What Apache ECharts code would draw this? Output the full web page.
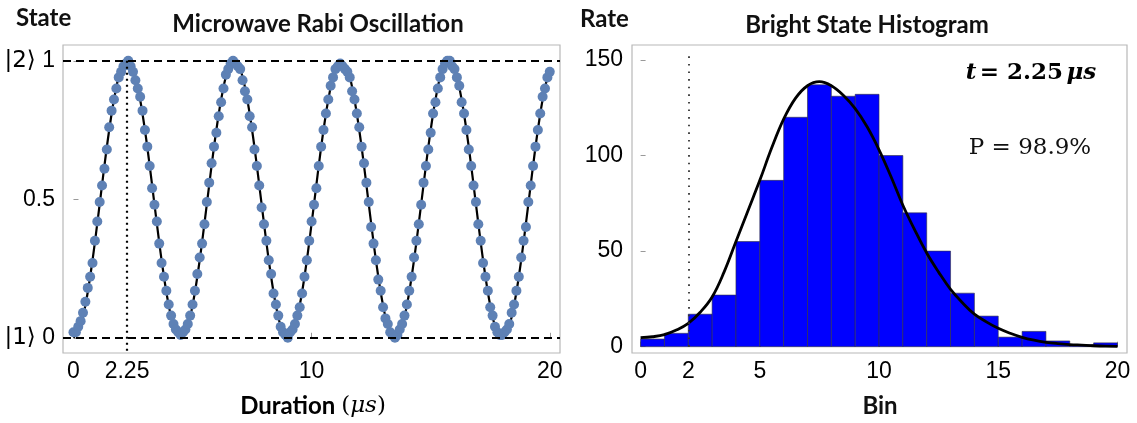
<!DOCTYPE html>
<html><head><meta charset="utf-8">
<script src="https://cdn.jsdelivr.net/npm/echarts@6/dist/echarts.min.js"></script>
<style>html,body{margin:0;padding:0;background:#fff}#c{width:1137px;height:423px}</style>
</head><body><div id="c"></div>
<script>
// ---- Left panel: Microwave Rabi oscillation ----
const rabiTimes = [
0,0.1,0.2,0.3,0.4,0.5,0.6,0.7,0.8,0.9,
1,1.1,1.2,1.3,1.4,1.5,1.6,1.7,1.8,1.9,
2,2.1,2.2,2.3,2.4,2.5,2.6,2.7,2.8,2.9,
3,3.1,3.2,3.3,3.4,3.5,3.6,3.7,3.8,3.9,
4,4.1,4.2,4.3,4.4,4.5,4.6,4.7,4.8,4.9,
5,5.1,5.2,5.3,5.4,5.5,5.6,5.7,5.8,5.9,
6,6.1,6.2,6.3,6.4,6.5,6.6,6.7,6.8,6.9,
7,7.1,7.2,7.3,7.4,7.5,7.6,7.7,7.8,7.9,
8,8.1,8.2,8.3,8.4,8.5,8.6,8.7,8.8,8.9,
9,9.1,9.2,9.3,9.4,9.5,9.6,9.7,9.8,9.9,
10,10.1,10.2,10.3,10.4,10.5,10.6,10.7,10.8,10.9,
11,11.1,11.2,11.3,11.4,11.5,11.6,11.7,11.8,11.9,
12,12.1,12.2,12.3,12.4,12.5,12.6,12.7,12.8,12.9,
13,13.1,13.2,13.3,13.4,13.5,13.6,13.7,13.8,13.9,
14,14.1,14.2,14.3,14.4,14.5,14.6,14.7,14.8,14.9,
15,15.1,15.2,15.3,15.4,15.5,15.6,15.7,15.8,15.9,
16,16.1,16.2,16.3,16.4,16.5,16.6,16.7,16.8,16.9,
17,17.1,17.2,17.3,17.4,17.5,17.6,17.7,17.8,17.9,
18,18.1,18.2,18.3,18.4,18.5,18.6,18.7,18.8,18.9,
19,19.1,19.2,19.3,19.4,19.5,19.6,19.7,19.8,19.9,
20];
const rabiState = [
0.02,0.02,0.04,0.06,0.09,0.13,0.18,0.22,0.27,0.35,0.42,0.49,0.55,0.61,0.68,0.76,0.82,0.86,0.90,0.94,0.96,0.98,0.99,1.00,0.98,0.96,0.93,0.90,0.87,0.82,0.75,0.69,0.62,0.54,0.48,0.42,0.34,0.27,0.22,0.17,0.12,0.08,0.05,0.03,0.02,
0.01,0.02,0.03,0.05,0.08,0.12,0.17,0.23,0.29,0.34,0.41,0.49,0.56,0.63,0.69,0.74,0.80,0.85,0.90,0.95,0.97,0.99,1.00,0.99,0.98,0.97,0.93,0.89,0.86,0.80,0.76,0.68,0.62,0.55,0.47,0.41,0.35,0.28,0.23,0.16,0.12,0.08,0.04,0.02,0.01,
0.00,0.02,0.03,0.05,0.08,0.11,0.16,0.22,0.28,0.35,0.42,0.48,0.54,0.62,0.69,0.75,0.81,0.86,0.91,0.94,0.97,0.98,0.99,0.98,0.97,0.96,0.94,0.89,0.86,0.81,0.76,0.69,0.63,0.56,0.49,0.40,0.34,0.28,0.21,0.17,0.11,0.07,0.05,0.02,0.01,
0.00,0.01,0.03,0.05,0.08,0.12,0.17,0.22,0.29,0.35,0.41,0.48,0.56,0.62,0.68,0.74,0.81,0.85,0.90,0.94,0.97,0.99,1.00,1.00,0.98,0.97,0.94,0.91,0.85,0.81,0.75,0.68,0.62,0.55,0.49,0.41,0.35,0.27,0.22,0.17,0.11,0.08,0.04,0.02,0.01,
0.01,0.02,0.03,0.05,0.09,0.12,0.17,0.22,0.29,0.35,0.40,0.49,0.55,0.62,0.69,0.75,0.81,0.87,0.90,0.94,0.96];
const fitTimes = [
0,0.25,0.5,0.75,1,1.25,1.5,1.75,2,2.25,2.5,2.75,3,3.25,3.5,3.75,4,4.25,4.5,4.75,
5,5.25,5.5,5.75,6,6.25,6.5,6.75,7,7.25,7.5,7.75,8,8.25,8.5,8.75,9,9.25,9.5,9.75,
10,10.25,10.5,10.75,11,11.25,11.5,11.75,12,12.25,12.5,12.75,13,13.25,13.5,13.75,14,14.25,14.5,14.75,
15,15.25,15.5,15.75,16,16.25,16.5,16.75,17,17.25,17.5,17.75,18,18.25,18.5,18.75,19,19.25,19.5,19.75,20];
const fitState = [
0,0.030,0.117,0.250,0.413,0.587,0.750,0.883,0.970,1.000,0.970,0.883,0.750,0.587,0.413,0.250,0.117,0.030,
0,0.030,0.117,0.250,0.413,0.587,0.750,0.883,0.970,1.000,0.970,0.883,0.750,0.587,0.413,0.250,0.117,0.030,
0,0.030,0.117,0.250,0.413,0.587,0.750,0.883,0.970,1.000,0.970,0.883,0.750,0.587,0.413,0.250,0.117,0.030,
0,0.030,0.117,0.250,0.413,0.587,0.750,0.883,0.970,1.000,0.970,0.883,0.750,0.587,0.413,0.250,0.117,0.030,
0,0.030,0.117,0.250,0.413,0.587,0.750,0.883,0.970];
const durationTicks = [0, 2.25, 10, 20];
const durationMinorTicks = [0, 10, 20];
const stateTicks = [0, 0.5, 1];
const piTime = 2.25;

// ---- Right panel: bright state histogram ----
const binStarts = [0,1,2,3,4,5,6,7,8,9,10,11,12,13,14,15,16,17,18,19];
const binCounts = [4,7,17,27,55,87,120,137,131,132,100,70,50,28,16,5,8,3,1,2];
const fitBins = [0,0.5,1,1.5,2,2.5,3,3.5,4,4.5,5,5.5,6,6.5,7,7.5,8,8.5,9,9.5,10,10.5,11,11.5,12,12.5,13,13.5,14,14.5,15,15.5,16,16.5,17,17.5,18,18.5,19,19.5,20];
const fitCounts = [4.7,5.2,6.3,8.7,12.2,18,26,39,55,71,87,104,119,130,136.5,138.6,136.5,131.5,124.5,115,103,89,74,61,49,39,30,23,17,13,9.6,7,4.9,3.4,2.3,1.6,1.1,0.8,0.5,0.3,0.2];
const binTicks = [0, 2, 5, 10, 15, 20];
const rateTicks = [0, 50, 100, 150];
const thresholdBin = 2;
const thresholdTop = 155;

const chart = echarts.init(document.getElementById('c'), null, {renderer: 'canvas'});
const TICKFONT = 'Liberation Sans, Arial, sans-serif';
const TITLEFONT = 'Lato, Carlito, Calibri, sans-serif';
const frame = '#b8b8b8';
const INK = '#000';

function zip(a, b) { return a.map((v, i) => [v, b[i]]); }

const option = {
  animation: false,
  backgroundColor: '#fff',
  grid: [
    {left: 63, top: 45, width: 497, height: 308, show: true, borderColor: frame, borderWidth: 1.2, backgroundColor: 'transparent'},
    {left: 632, top: 45, width: 495, height: 308, show: true, borderColor: frame, borderWidth: 1.2, backgroundColor: 'transparent'}
  ],
  xAxis: [
    {type: 'value', gridIndex: 0, min: -0.44, max: 20.43,
     axisLine: {show: false}, splitLine: {show: false},
     axisTick: {show: true, inside: true, length: 5, lineStyle: {color: '#999'}, customValues: durationMinorTicks},
     axisLabel: {customValues: durationTicks, fontFamily: TICKFONT, fontSize: 23, color: INK, margin: 7,
                 formatter: v => String(v)}},
    {type: 'value', gridIndex: 1, min: -0.36, max: 20.4,
     axisLine: {show: false}, splitLine: {show: false},
     axisTick: {show: true, inside: true, length: 5, lineStyle: {color: '#999'}, customValues: binTicks},
     axisLabel: {customValues: binTicks, fontFamily: TICKFONT, fontSize: 23, color: INK, margin: 7,
                 formatter: v => String(v)}}
  ],
  yAxis: [
    {type: 'value', gridIndex: 0, min: -0.055, max: 1.057,
     axisLine: {show: false}, splitLine: {show: false},
     axisTick: {show: true, inside: true, length: 5, lineStyle: {color: '#999'}, customValues: stateTicks},
     axisLabel: {customValues: stateTicks, margin: 8,
       formatter: v => v === 1 ? '{k|\u007C2\u27E9}{n| 1}' : (v === 0 ? '{k|\u007C1\u27E9}{n| 0}' : '{n|0.5}'),
       rich: {
         k: {fontFamily: 'DejaVu Sans, sans-serif', fontSize: 23, color: INK},
         n: {fontFamily: TICKFONT, fontSize: 23, color: INK}
       }}},
    {type: 'value', gridIndex: 1, min: -3.3, max: 157.8,
     axisLine: {show: false}, splitLine: {show: false},
     axisTick: {show: true, inside: true, length: 5, lineStyle: {color: '#999'}, customValues: rateTicks},
     axisLabel: {customValues: rateTicks, fontFamily: TICKFONT, fontSize: 23, color: INK, margin: 9,
                 formatter: v => String(v)}}
  ],
  series: [
    // reference lines, left
    {type: 'line', xAxisIndex: 0, yAxisIndex: 0, data: [], z: 1, silent: true,
     markLine: {symbol: 'none', silent: true, label: {show: false}, animation: false,
       data: [
         {yAxis: 0, lineStyle: {color: '#000', width: 2, type: [8, 5]}},
         {yAxis: 1, lineStyle: {color: '#000', width: 2, type: [8, 5]}},
         [{coord: [piTime, 1], lineStyle: {color: '#000', width: 2.2, type: [2, 4]}}, {coord: [piTime, -0.055]}]
       ]}},
    {type: 'line', xAxisIndex: 0, yAxisIndex: 0, data: zip(fitTimes, fitState), smooth: 0.4,
     symbol: 'none', lineStyle: {color: '#000', width: 2.2}, z: 2, silent: true},
    {type: 'scatter', xAxisIndex: 0, yAxisIndex: 0, data: zip(rabiTimes, rabiState), symbol: 'circle', symbolSize: 10,
     itemStyle: {color: '#5E81B5', opacity: 1}, z: 3, silent: true},
    // threshold dotted line, right
    {type: 'line', xAxisIndex: 1, yAxisIndex: 1, data: [], z: 1, silent: true,
     markLine: {symbol: 'none', silent: true, label: {show: false}, animation: false,
       data: [[{coord: [thresholdBin, 0], lineStyle: {color: '#333', width: 1.8, type: [1.6, 6]}}, {coord: [thresholdBin, thresholdTop]}]]}},
    {type: 'custom', xAxisIndex: 1, yAxisIndex: 1, data: zip(binStarts, binCounts), z: 2, silent: true,
     renderItem: function (params, api) {
       const x0 = api.value(0), h = api.value(1);
       const p0 = api.coord([x0, 0]);
       const p1 = api.coord([x0 + 1, h]);
       return {type: 'rect', shape: {x: p0[0], y: p1[1], width: p1[0] - p0[0], height: p0[1] - p1[1]},
               style: {fill: '#0000FF', stroke: 'rgba(50,50,60,0.75)', lineWidth: 0.8}};
     }},
    {type: 'line', xAxisIndex: 1, yAxisIndex: 1, data: zip(fitBins, fitCounts), smooth: 0.4,
     symbol: 'none', lineStyle: {color: '#000', width: 2.8}, z: 4, silent: true}
  ],
  graphic: [
    {type: 'text', x: 16, y: 18, style: {text: 'State', font: 'bold 24px ' + TITLEFONT, fill: '#111', verticalAlign: 'middle'}},
    {type: 'text', x: 318, y: 24, style: {text: 'Microwave Rabi Oscillation', font: 'bold 24px ' + TITLEFONT, fill: '#111', align: 'center', verticalAlign: 'middle'}},
    {type: 'text', x: 580, y: 19, style: {text: 'Rate', font: 'bold 24px ' + TITLEFONT, fill: '#111', verticalAlign: 'middle'}},
    {type: 'text', x: 867, y: 25, style: {text: 'Bright State Histogram', font: 'bold 24px ' + TITLEFONT, fill: '#111', align: 'center', verticalAlign: 'middle'}},
    {type: 'text', x: 313, y: 406, style: {
      text: '{b|Duration }{p|(}{m|\u03BCs}{p|)}', align: 'center', verticalAlign: 'middle',
      rich: {
        b: {fontFamily: TITLEFONT, fontWeight: 'bold', fontSize: 24, color: '#111'},
        p: {fontFamily: 'DejaVu Serif, serif', fontSize: 23, color: '#111'},
        m: {fontFamily: 'DejaVu Serif, serif', fontStyle: 'italic', fontSize: 23, color: '#111'}
      }}},
    {type: 'text', x: 880, y: 406, style: {text: 'Bin', font: 'bold 24px ' + TITLEFONT, fill: '#111', align: 'center', verticalAlign: 'middle'}},
    {type: 'text', x: 1031, y: 73, style: {
      text: '{i|t} {b|= 2.25} {i|\u03BCs}', align: 'center', verticalAlign: 'middle',
      rich: {
        i: {fontFamily: 'DejaVu Serif, serif', fontStyle: 'italic', fontWeight: 'bold', fontSize: 23, color: '#111'},
        b: {fontFamily: 'DejaVu Serif, serif', fontWeight: 'bold', fontSize: 23, color: '#111'}
      }}},
    {type: 'text', x: 1030, y: 148, style: {text: 'P = 98.9%', font: '23px DejaVu Serif, serif', fill: '#111', align: 'center', verticalAlign: 'middle'}}
  ]
};
chart.setOption(option);
</script>
</body></html>
